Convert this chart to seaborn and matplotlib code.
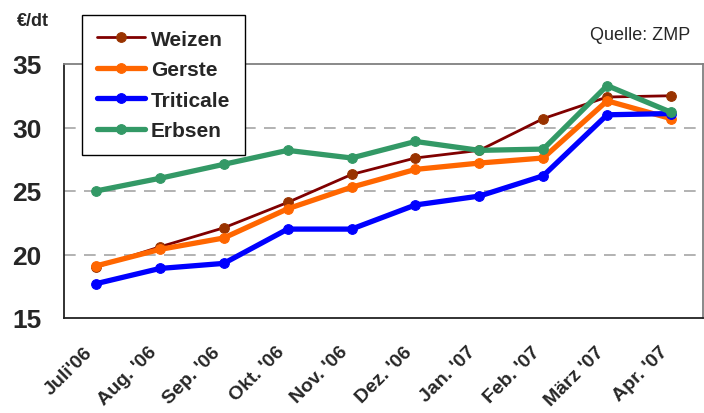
import matplotlib
matplotlib.use("Agg")
import matplotlib.pyplot as plt
import numpy as np
import pandas as pd
import seaborn as sns

months = ["Juli'06", "Aug. '06", "Sep. '06", "Okt. '06", "Nov. '06",
          "Dez. '06", "Jan. '07", "Feb. '07", "März '07", "Apr. '07"]
weizen = [19.0, 20.6, 22.1, 24.1, 26.3, 27.6, 28.2, 30.7, 32.4, 32.5]
gerste = [19.1, 20.4, 21.3, 23.6, 25.3, 26.7, 27.2, 27.6, 32.1, 30.7]
triticale = [17.7, 18.9, 19.3, 22.0, 22.0, 23.9, 24.6, 26.2, 31.0, 31.1]
erbsen = [25.0, 26.0, 27.1, 28.2, 27.6, 28.9, 28.2, 28.3, 33.3, 31.2]
yticks = [15, 20, 25, 30, 35]

series = {"Weizen": weizen, "Gerste": gerste,
          "Triticale": triticale, "Erbsen": erbsen}
line_colors = {"Weizen": "#800000", "Gerste": "#ff6600",
               "Triticale": "#0000ff", "Erbsen": "#339966"}
marker_colors = {"Weizen": "#993300", "Gerste": "#ff6600",
                 "Triticale": "#0000ff", "Erbsen": "#339966"}
widths = {"Weizen": 2.0, "Gerste": 3.8, "Triticale": 3.8, "Erbsen": 3.8}

sns.set_style("white")
plt.rcParams["font.family"] = ["Liberation Sans", "DejaVu Sans"]

df = pd.DataFrame({"x": np.tile(np.arange(len(months)), len(series)),
                   "Sorte": np.repeat(list(series), len(months)),
                   "Preis": np.concatenate([series[k] for k in series])})

fig = plt.figure(figsize=(7.04, 4.14), dpi=100)
ax = fig.add_axes([64 / 704, 95 / 414, 639 / 704, 254 / 414])

for name in series:
    sub = df[df["Sorte"] == name]
    sns.lineplot(data=sub, x="x", y="Preis", ax=ax, color=line_colors[name],
                 lw=widths[name], marker="o", markersize=7,
                 markerfacecolor=marker_colors[name],
                 markeredgecolor=marker_colors[name], label=name)

ax.set_xlim(-0.5, len(months) - 0.5)
ax.set_ylim(15, 35)
ax.set_yticks(yticks)
ax.set_yticklabels([str(v) for v in yticks], fontsize=19, fontweight="bold")
ax.tick_params(axis="y", length=0, pad=16)

# labels: rotated box right edge at the tick, top below the axis
ax.set_xticks(np.arange(len(months)))
ax.set_xticklabels(months, rotation=45, ha="right", va="top",
                   fontsize=14, fontweight="bold")
ax.set_xticks(np.arange(-0.5, len(months)), minor=True)
ax.tick_params(axis="x", which="major", length=0, pad=18)
ax.tick_params(axis="x", which="minor", direction="inout", length=12,
               width=1, color="#333333")

for v in yticks[1:-1]:
    ax.axhline(v, color="#a6a6a6", lw=1.2, ls=(0, (7, 5)), zorder=0)

ax.set_xlabel("")
ax.set_ylabel("")
for side in ["left", "bottom"]:
    ax.spines[side].set_color("#222222")
    ax.spines[side].set_linewidth(1.3)
for side in ["top", "right"]:
    ax.spines[side].set_color("#808080")
    ax.spines[side].set_linewidth(1.3)

ax.get_legend().remove()
handles, labels = ax.get_legend_handles_labels()
leg = fig.legend(handles, labels, loc="upper left",
                 bbox_to_anchor=(82 / 704, 1 - 16 / 414),
                 borderaxespad=0, borderpad=0.7, handlelength=2.3,
                 handletextpad=0.3, labelspacing=0.55,
                 prop={"weight": "bold", "size": 15}, fancybox=False,
                 framealpha=1, edgecolor="black")
leg.get_frame().set_linewidth(1.0)

fig.text(33 / 704, 1 - 22 / 414, "€/dt", ha="center", va="center",
         fontsize=13, fontweight="bold")
fig.text(690 / 704, 1 - 36 / 414, "Quelle: ZMP", ha="right", va="center",
         fontsize=13)

fig.savefig("out.png", dpi=100)
